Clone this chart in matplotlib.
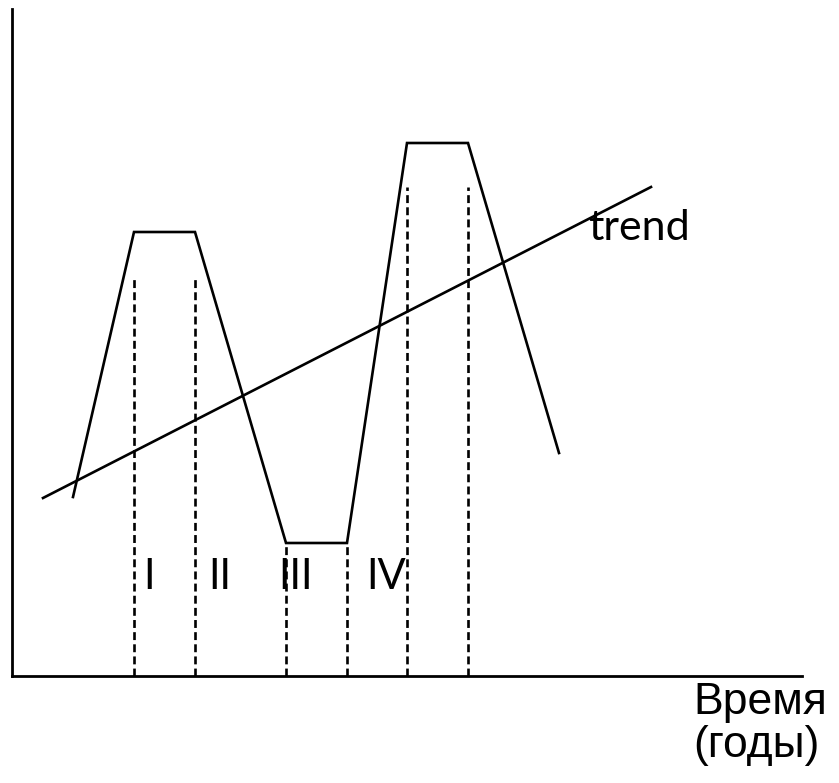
import matplotlib
matplotlib.use("Agg")
import matplotlib.pyplot as plt

# Data (x: time units, y: value units; origin at the axes corner)
curve_x = [61, 122, 183, 274, 335, 395, 456, 547]
curve_y = [179, 444, 444, 133, 133, 533, 533, 223]
trend_x = [31, 639]
trend_y = [178, 489]
phase_x = [122, 183, 274, 335, 395, 456]
phase_top = [400, 400, 133, 133, 489, 489]
phase_labels = ["I", "II", "III", "IV"]
phase_label_x = [137, 208, 284, 374]
phase_label_y = 99
trend_label = "trend"
xlabel = "Время\n(годы)"

W, H = 839, 783
fig = plt.figure(figsize=(W / 100, H / 100), dpi=100)
x0, y0 = 12, 676
x1, ytop = 802, 9
ax = fig.add_axes([x0 / W, (H - y0) / H, (x1 - x0) / W, (y0 - ytop) / H])
ax.set_xlim(0, x1 - x0)
ax.set_ylim(0, y0 - ytop)
for s in ["top", "right"]:
    ax.spines[s].set_visible(False)
for s in ["left", "bottom"]:
    ax.spines[s].set_linewidth(2.0)
    ax.spines[s].set_color("black")
ax.set_xticks([])
ax.set_yticks([])

ax.plot(curve_x, curve_y, color="black", lw=1.9, solid_joinstyle="miter")
ax.plot(trend_x, trend_y, color="black", lw=1.9)
for px, pt in zip(phase_x, phase_top):
    ax.plot([px, px], [0, pt], color="black", lw=1.9, dashes=(3.0, 1.6))

for lab, lx in zip(phase_labels, phase_label_x):
    ax.text(lx, phase_label_y, lab, fontsize=30, family="Lato",
            ha="center", va="center")

ax.text(576, 436, trend_label, fontsize=31, family="Lato",
        ha="left", va="baseline")

fig.text(693 / W, 1 - 757 / H, xlabel, fontsize=32, family="Liberation Sans",
         ha="left", va="baseline", linespacing=1.05)

fig.savefig("out.png", dpi=100)
